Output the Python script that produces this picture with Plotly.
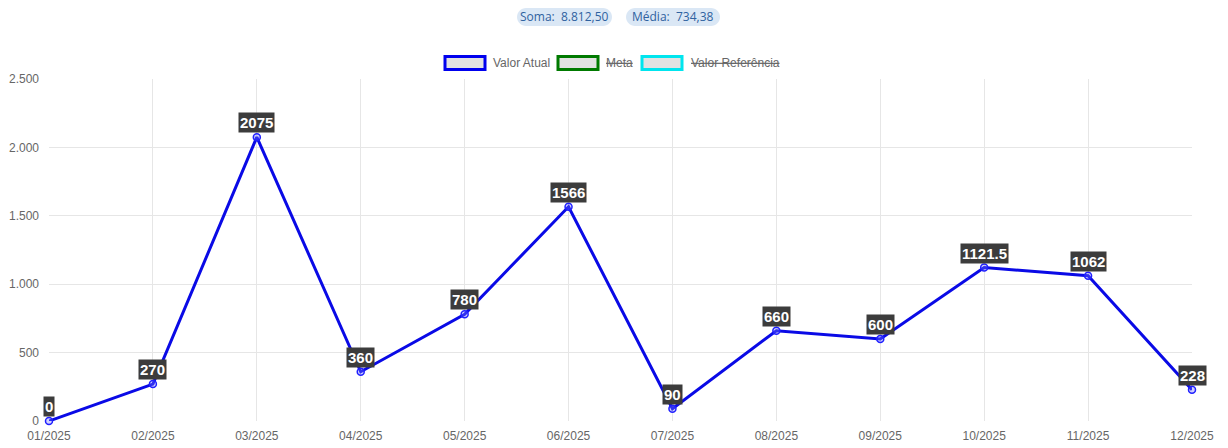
import plotly.graph_objects as go

categories = ["01/2025", "02/2025", "03/2025", "04/2025", "05/2025", "06/2025",
              "07/2025", "08/2025", "09/2025", "10/2025", "11/2025", "12/2025"]
valor_atual = [0, 270, 2075, 360, 780, 1566, 90, 660, 600, 1121.5, 1062, 228]
y_ticks = [0, 500, 1000, 1500, 2000, 2500]
soma_text = "Soma:  8.812,50"
media_text = "Média:  734,38"
legend_names = ["Valor Atual", "Meta", "Valor Referência"]
legend_colors = ["#0000ee", "#007a00", "#00e5ee"]
legend_hidden = [False, True, True]

L, R, T, B = 49, 36, 79, 27
W, H = 1228, 448
pw, ph = W - L - R, H - T - B

def px(x):
    return (x - L) / pw

def py(y):
    return (H - B - y) / ph

fig = go.Figure()
fig.add_trace(go.Scatter(
    x=categories, y=valor_atual, mode="lines+markers",
    line=dict(color="#0a0ae6", width=3),
    marker=dict(size=7, color="rgba(120,120,255,0.35)", line=dict(color="#2020ff", width=1.5)),
    showlegend=False, hoverinfo="x+y", cliponaxis=False))

annotations = []
for c, v in zip(categories, valor_atual):
    lab = f"{v:g}"
    annotations.append(dict(x=c, y=v, xref="x", yref="y", text=f"<b>{lab}</b>",
                            showarrow=False, yanchor="bottom", xanchor="center", yshift=4,
                            font=dict(family="Arial", size=15, color="white"),
                            bgcolor="#3c3c3c", borderpad=1))

shapes = []

def pill(cx, cy, w, h):
    r = h / 2
    hw = w / 2 - r
    k = r * 0.55
    path = (f"M {-hw},{-r} L {hw},{-r} "
            f"C {hw + k},{-r} {hw + r},{-k} {hw + r},0 "
            f"C {hw + r},{k} {hw + k},{r} {hw},{r} "
            f"L {-hw},{r} "
            f"C {-hw - k},{r} {-hw - r},{k} {-hw - r},0 "
            f"C {-hw - r},{-k} {-hw - k},{-r} {-hw},{-r} Z")
    return dict(type="path", xref="paper", yref="paper", xsizemode="pixel", ysizemode="pixel",
                xanchor=cx, yanchor=cy, path=path, fillcolor="#dae7f5", line=dict(width=0),
                layer="below")

shapes.append(pill(px(564.5), py(17), 95, 18))
shapes.append(pill(px(673), py(17), 94, 18))
annotations.append(dict(x=px(564.5), y=py(17), xref="paper", yref="paper", text=soma_text,
                        showarrow=False, xanchor="center", yanchor="middle",
                        font=dict(family="Open Sans, Arial", size=12, color="#2f62a0")))
annotations.append(dict(x=px(673), y=py(17), xref="paper", yref="paper", text=media_text,
                        showarrow=False, xanchor="center", yanchor="middle",
                        font=dict(family="Open Sans, Arial", size=12, color="#2f62a0")))

box_centers = [465, 578, 662]
text_lefts = [491, 604, 689]
for name, col, hid, bc, tl in zip(legend_names, legend_colors, legend_hidden, box_centers, text_lefts):
    shapes.append(dict(type="rect", xref="paper", yref="paper", xsizemode="pixel", ysizemode="pixel",
                       xanchor=px(bc), yanchor=py(63), x0=-20, x1=20, y0=-6.5, y1=6.5,
                       fillcolor="#e2e2e2", line=dict(color=col, width=3)))
    txt = f"<s>{name}</s>" if hid else name
    annotations.append(dict(x=px(tl), y=py(63), xref="paper", yref="paper", text=txt,
                            xanchor="left", yanchor="middle", showarrow=False,
                            font=dict(family="Arial", size=12, color="#666666")))

fig.update_layout(
    width=W, height=H, margin=dict(l=L, r=R, t=T, b=B, autoexpand=False),
    plot_bgcolor="white", paper_bgcolor="white",
    separators=",.", showlegend=False,
    annotations=annotations, shapes=shapes,
    xaxis=dict(type="category", range=[0, len(categories) - 1], showgrid=True,
               gridcolor="#e6e6e6", zeroline=False, showline=False, automargin=False,
               tickfont=dict(family="Arial", size=12, color="#666666"), ticks="",
               ticklabelstandoff=6),
    yaxis=dict(range=[0, 2500], tickvals=y_ticks, tickformat=",d", showgrid=True,
               gridcolor="#e6e6e6", zeroline=False, showline=False, automargin=False,
               tickfont=dict(family="Arial", size=12, color="#666666"),
               ticklabelstandoff=9),
)
fig.write_html("out.html", config={"displayModeBar": False},
               post_script="document.body.style.margin='0';document.body.style.padding='0';")
